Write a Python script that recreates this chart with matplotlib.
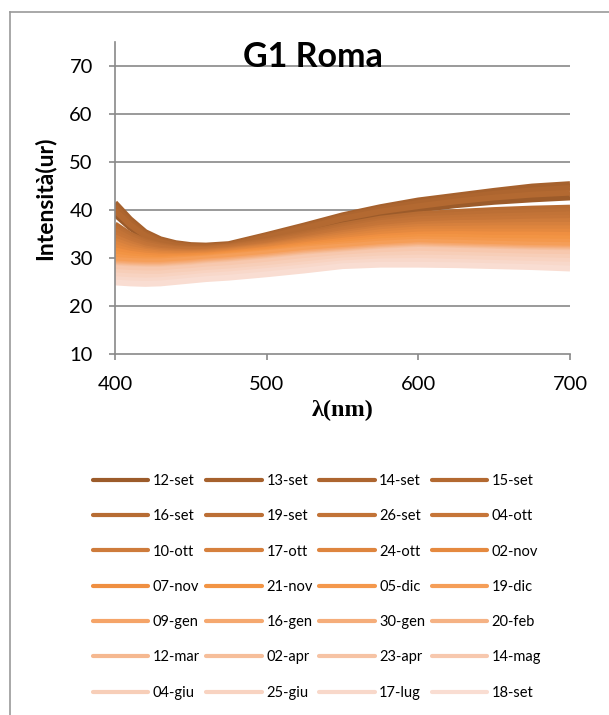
import matplotlib
matplotlib.use("Agg")
import matplotlib.pyplot as plt
from matplotlib.lines import Line2D

W, H = 609, 715
plt.rcParams['font.family'] = ['Lato', 'DejaVu Sans']

wavelengths = [400, 410, 420, 430, 440, 450, 460, 475, 500, 525, 550, 575, 600, 625, 650, 675, 700]

series_names = ['12-set', '13-set', '14-set', '15-set', '16-set', '19-set', '26-set', '04-ott',
                '10-ott', '17-ott', '24-ott', '02-nov', '07-nov', '21-nov', '05-dic', '19-dic',
                '09-gen', '16-gen', '30-gen', '20-feb', '12-mar', '02-apr', '23-apr', '14-mag',
                '04-giu', '25-giu', '17-lug', '18-set']

s_12set = [39.1, 36.3, 34.1, 32.9, 32.3, 32.1, 32.0, 32.3, 34.0, 35.8, 37.7, 39.1, 40.1, 41.0, 41.7, 42.2, 42.6]
s_13set = [41.5, 38.1, 35.4, 33.9, 33.1, 32.7, 32.6, 32.9, 34.8, 36.8, 38.9, 40.6, 42.0, 43.0, 44.0, 44.9, 45.4]
s_14set = [40.7, 37.5, 35.0, 33.6, 32.9, 32.5, 32.4, 32.7, 34.6, 36.5, 38.6, 40.2, 41.5, 42.5, 43.4, 44.1, 44.6]
s_15set = [39.9, 36.9, 34.6, 33.3, 32.6, 32.3, 32.2, 32.5, 34.3, 36.2, 38.2, 39.7, 40.8, 41.8, 42.6, 43.2, 43.6]
s_16set = [37.0, 34.9, 33.5, 32.7, 32.2, 32.0, 32.0, 32.4, 33.6, 35.1, 36.8, 38.2, 39.1, 39.6, 40.0, 40.3, 40.5]
s_19set = [36.3, 34.5, 33.2, 32.5, 32.0, 31.9, 31.9, 32.3, 33.4, 34.8, 36.4, 37.7, 38.6, 39.0, 39.4, 39.6, 39.8]
s_26set = [35.7, 34.0, 32.8, 32.2, 31.8, 31.7, 31.7, 32.1, 33.1, 34.5, 36.0, 37.3, 38.1, 38.4, 38.7, 38.9, 39.1]
s_04ott = [35.0, 33.5, 32.4, 31.8, 31.5, 31.4, 31.5, 31.9, 32.9, 34.2, 35.6, 36.8, 37.5, 37.9, 38.1, 38.3, 38.4]
s_10ott = [34.3, 33.0, 32.0, 31.5, 31.3, 31.2, 31.3, 31.7, 32.6, 33.9, 35.2, 36.3, 37.0, 37.3, 37.4, 37.6, 37.7]
s_17ott = [33.6, 32.5, 31.6, 31.2, 31.0, 31.0, 31.1, 31.5, 32.4, 33.6, 34.8, 35.9, 36.5, 36.7, 36.8, 36.9, 36.9]
s_24ott = [33.0, 31.9, 31.3, 30.9, 30.8, 30.8, 30.9, 31.3, 32.2, 33.3, 34.4, 35.4, 36.0, 36.1, 36.2, 36.2, 36.2]
s_02nov = [32.3, 31.4, 30.9, 30.6, 30.5, 30.6, 30.7, 31.1, 31.9, 33.0, 34.0, 34.9, 35.5, 35.5, 35.5, 35.5, 35.5]
s_07nov = [31.6, 30.9, 30.5, 30.3, 30.3, 30.4, 30.5, 30.9, 31.7, 32.7, 33.6, 34.4, 34.9, 35.0, 34.9, 34.9, 34.8]
s_21nov = [30.9, 30.4, 30.1, 29.9, 30.0, 30.1, 30.3, 30.7, 31.4, 32.4, 33.2, 34.0, 34.4, 34.4, 34.2, 34.2, 34.1]
s_05dic = [30.3, 29.9, 29.7, 29.6, 29.8, 29.9, 30.1, 30.5, 31.2, 32.1, 32.8, 33.5, 33.9, 33.8, 33.6, 33.5, 33.4]
s_19dic = [29.6, 29.4, 29.3, 29.3, 29.5, 29.7, 29.9, 30.3, 31.0, 31.8, 32.4, 33.0, 33.4, 33.2, 33.0, 32.8, 32.7]
s_09gen = [28.9, 28.7, 28.6, 28.6, 28.8, 29.0, 29.3, 29.6, 30.3, 31.1, 31.7, 32.3, 32.7, 32.5, 32.3, 32.1, 32.0]
s_16gen = [28.75, 28.55, 28.45, 28.45, 28.65, 28.85, 29.15, 29.5, 30.2, 31.0, 31.6, 32.2, 32.6, 32.4, 32.2, 32.0, 31.9]
s_30gen = [28.6, 28.4, 28.3, 28.3, 28.5, 28.7, 29.0, 29.3, 30.0, 30.8, 31.4, 32.0, 32.4, 32.2, 32.0, 31.8, 31.7]
s_20feb = [28.45, 28.25, 28.15, 28.15, 28.35, 28.55, 28.85, 29.2, 29.9, 30.7, 31.3, 31.9, 32.3, 32.1, 31.9, 31.7, 31.6]
s_12mar = [28.3, 28.1, 28.0, 28.0, 28.2, 28.4, 28.7, 29.0, 29.7, 30.5, 31.1, 31.7, 32.1, 31.9, 31.7, 31.5, 31.4]
s_02apr = [28.15, 27.95, 27.85, 27.85, 28.05, 28.25, 28.55, 28.9, 29.6, 30.4, 31.0, 31.6, 32.0, 31.8, 31.6, 31.4, 31.3]
s_23apr = [28.0, 27.8, 27.7, 27.7, 27.9, 28.1, 28.4, 28.7, 29.4, 30.2, 30.8, 31.4, 31.8, 31.6, 31.4, 31.2, 31.1]
s_14mag = [27.85, 27.65, 27.55, 27.55, 27.75, 27.95, 28.25, 28.6, 29.3, 30.1, 30.7, 31.3, 31.7, 31.5, 31.3, 31.1, 31.0]
s_04giu = [27.1, 26.9, 26.8, 26.8, 27.1, 27.3, 27.6, 27.9, 28.6, 29.4, 30.1, 30.6, 30.9, 30.7, 30.5, 30.3, 30.2]
s_25giu = [26.4, 26.2, 26.1, 26.1, 26.4, 26.6, 26.9, 27.2, 27.9, 28.7, 29.5, 29.9, 30.1, 30.0, 29.8, 29.6, 29.4]
s_17lug = [25.6, 25.4, 25.3, 25.4, 25.7, 26.0, 26.3, 26.6, 27.3, 28.1, 28.9, 29.3, 29.4, 29.2, 29.0, 28.8, 28.6]
s_18set = [24.9, 24.7, 24.6, 24.7, 25.0, 25.3, 25.6, 25.9, 26.6, 27.4, 28.3, 28.6, 28.6, 28.5, 28.3, 28.1, 27.8]

series_values = [s_12set, s_13set, s_14set, s_15set, s_16set, s_19set, s_26set, s_04ott,
                 s_10ott, s_17ott, s_24ott, s_02nov, s_07nov, s_21nov, s_05dic, s_19dic,
                 s_09gen, s_16gen, s_30gen, s_20feb, s_12mar, s_02apr, s_23apr, s_14mag,
                 s_04giu, s_25giu, s_17lug, s_18set]

series_colors = ['#9C5B2A', '#A6612D', '#AD652F', '#B36931', '#B76C33', '#BC6F35', '#C27337', '#C67538',
                 '#CE7B3B', '#D6803D', '#DE853E', '#E5893F', '#EF8F41', '#F29444', '#F4984C', '#F59E58',
                 '#F5A468', '#F5A86F', '#F5AD7A', '#F5B284', '#F5B890', '#F6BE9A', '#F6C3A4', '#F7C8AE',
                 '#F7CEB8', '#F8D3C1', '#F8D8CA', '#F9DDD2']

y_ticks = [10, 20, 30, 40, 50, 60, 70]
x_ticks = [400, 500, 600, 700]

GRAY = '#898989'
fig = plt.figure(figsize=(W / 100, H / 100), dpi=100)

# outer chart frame
fig.add_artist(Line2D([10 / W, 10 / W], [0, 1 - 12 / H], transform=fig.transFigure, color='#9A9A9A', lw=1.2))
fig.add_artist(Line2D([10 / W, 1], [1 - 12 / H, 1 - 12 / H], transform=fig.transFigure, color='#9A9A9A', lw=1.2))

ax = fig.add_axes([115 / W, 1 - 354 / H, 455 / W, 312 / H])
ax.set_xlim(400, 700)
ax.set_ylim(10, 75)
for side in ['top', 'right']:
    ax.spines[side].set_visible(False)
for side in ['left', 'bottom']:
    ax.spines[side].set_color(GRAY)
    ax.spines[side].set_linewidth(1.2)
ax.set_yticks(y_ticks)
ax.set_xticks(x_ticks)
ax.tick_params(axis='both', direction='out', length=4, width=1.2, color=GRAY, labelsize=14.5)
ax.tick_params(axis='y', pad=12)
ax.tick_params(axis='x', pad=12)
for yt in y_ticks[1:]:
    ax.axhline(yt, color=GRAY, lw=1.2, zorder=1)

handles = []
for name, vals, col in zip(series_names, series_values, series_colors):
    ax.plot(wavelengths, vals, color=col, lw=4.2, solid_capstyle='butt',
            solid_joinstyle='round', zorder=2, label=name)
    handles.append(Line2D([], [], color=col, lw=3.0, solid_capstyle='round'))

ax.set_ylabel('Intensità(ur)', fontsize=16.5, fontweight='bold', labelpad=10)
ax.set_xlabel('λ(nm)', fontsize=17.5, fontweight='bold', family=['Liberation Serif', 'DejaVu Serif'], labelpad=5)

fig.text(313 / W, 1 - 57 / H, 'G1 Roma', ha='center', va='center', fontsize=24.5, fontweight='bold')

# legend in row order (4 columns): reorder for column-major filling
ncol = 4
nrow = 7
order = [r * ncol + c for c in range(ncol) for r in range(nrow)]
fig.legend([handles[i] for i in order], [series_names[i] for i in order],
           ncol=ncol, loc='upper left', bbox_to_anchor=(93 / W, 1 - 474 / H),
           frameon=False, fontsize=10.5, handlelength=3.8, handletextpad=0.3,
           columnspacing=0.45, labelspacing=1.46, borderpad=0, borderaxespad=0)

fig.savefig('out.png', dpi=100)
